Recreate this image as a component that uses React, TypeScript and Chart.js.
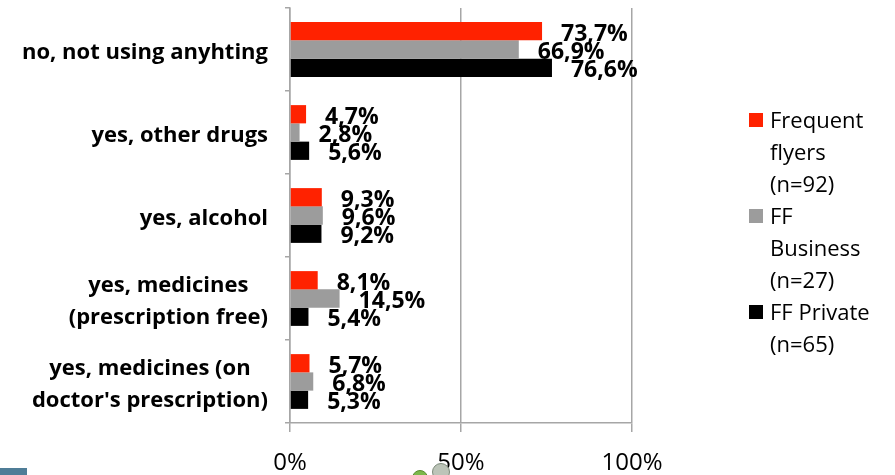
import React, { useEffect, useRef } from "react";
import { Chart, registerables } from "chart.js";

Chart.register(...registerables);

const categories: string[][] = [
  ["no, not using anyhting"],
  ["yes, other drugs"],
  ["yes, alcohol"],
  ["yes, medicines", "(prescription free)"],
  ["yes, medicines (on", "doctor's prescription)"],
];
const frequentFlyers = [73.7, 4.7, 9.3, 8.1, 5.7];
const ffBusiness = [66.9, 2.8, 9.6, 14.5, 6.8];
const ffPrivate = [76.6, 5.6, 9.2, 5.4, 5.3];
const seriesLegend: string[][] = [
  ["Frequent", "flyers", "(n=92)"],
  ["FF", "Business", "(n=27)"],
  ["FF Private", "(n=65)"],
];
const seriesColors = ["#ff2200", "#9c9c9c", "#000000"];
const xTickValues = [0, 50, 100];

const FONT = "'Open Sans', 'Noto Sans', sans-serif";
const AXIS_GRAY = "#a6a6a6";

const fmt = (v: number) => v.toFixed(1).replace(".", ",") + "%";

const categoryLabelPlugin = {
  id: "categoryLabels",
  afterDraw(chart: any) {
    const ctx = chart.ctx;
    const yScale = chart.scales.y;
    const right = chart.chartArea.left - 22;
    const lh = 32;
    ctx.save();
    ctx.font = `bold 22px ${FONT}`;
    ctx.fillStyle = "#000";
    ctx.textBaseline = "middle";
    ctx.textAlign = "center";
    (chart.data.labels as string[][]).forEach((lines, i) => {
      const yc = yScale.getPixelForTick(i) + 3;
      const w = Math.max(...lines.map((l) => ctx.measureText(l).width));
      const cx = right - w / 2;
      const y0 = yc - ((lines.length - 1) * lh) / 2;
      lines.forEach((l, k) => ctx.fillText(l, cx, y0 + k * lh));
    });
    ctx.restore();
  },
};

const dataLabelPlugin = {
  id: "dataLabels",
  afterDatasetsDraw(chart: any) {
    const ctx = chart.ctx;
    ctx.save();
    ctx.font = `bold 23px ${FONT}`;
    ctx.fillStyle = "#000";
    ctx.textBaseline = "middle";
    ctx.textAlign = "left";
    chart.data.datasets.forEach((ds: any, di: number) => {
      const meta = chart.getDatasetMeta(di);
      meta.data.forEach((bar: any, i: number) => {
        ctx.fillText(fmt(ds.data[i]), bar.x + 19, bar.y + 3);
      });
    });
    ctx.restore();
  },
};

const legendPlugin = {
  id: "customLegend",
  afterDraw(chart: any) {
    const ctx = chart.ctx;
    const boxX = 749;
    const textX = 770;
    const lh = 32;
    let y = 122;
    ctx.save();
    ctx.font = `22px ${FONT}`;
    ctx.textBaseline = "middle";
    ctx.textAlign = "left";
    chart.data.datasets.forEach((ds: any, di: number) => {
      const lines = seriesLegend[di];
      ctx.fillStyle = ds.backgroundColor;
      ctx.fillRect(boxX, y - 9, 14, 14);
      ctx.fillStyle = "#000";
      lines.forEach((l: string, k: number) => ctx.fillText(l, textX, y + k * lh));
      y += lines.length * lh;
    });
    ctx.restore();
  },
};

export default function App() {
  const ref = useRef<HTMLCanvasElement | null>(null);

  useEffect(() => {
    if (!ref.current) return;
    const chart = new Chart(ref.current, {
      type: "bar",
      data: {
        labels: categories as any,
        datasets: [
          { label: "Frequent flyers (n=92)", data: frequentFlyers, backgroundColor: seriesColors[0] },
          { label: "FF Business (n=27)", data: ffBusiness, backgroundColor: seriesColors[1] },
          { label: "FF Private (n=65)", data: ffPrivate, backgroundColor: seriesColors[2] },
        ],
      },
      options: {
        indexAxis: "y",
        responsive: false,
        animation: false,
        layout: { padding: { left: 0, top: 8, right: 263, bottom: 0 } },
        datasets: { bar: { categoryPercentage: 0.66, barPercentage: 1.0 } },
        plugins: { legend: { display: false }, tooltip: { enabled: false } },
        scales: {
          x: {
            min: 0,
            max: 100,
            afterBuildTicks: (scale: any) => {
              scale.ticks = xTickValues.map((v) => ({ value: v }));
            },
            afterFit: (scale: any) => {
              scale.height = 52;
            },
            ticks: {
              callback: (v: any) => v + "%",
              font: { family: FONT, size: 24 },
              color: "#000",
              padding: 17,
              maxRotation: 0,
              autoSkip: false,
            },
            grid: { color: AXIS_GRAY, lineWidth: 1.5, tickLength: 9, drawTicks: true },
            border: { display: true, color: AXIS_GRAY, width: 1.5 },
          },
          y: {
            afterFit: (scale: any) => {
              scale.width = 290;
            },
            ticks: { display: false },
            grid: { drawOnChartArea: false, offset: true, color: AXIS_GRAY, tickLength: 5, lineWidth: 1.5 },
            border: { display: true, color: AXIS_GRAY, width: 1.5 },
          },
        },
      } as any,
      plugins: [categoryLabelPlugin, dataLabelPlugin, legendPlugin],
    });
    return () => chart.destroy();
  }, []);

  return (
    <div style={{ position: "fixed", left: 0, top: 0, width: 895, height: 475, background: "#fff", overflow: "hidden" }}>
      <canvas ref={ref} width={895} height={475} style={{ width: 895, height: 475, display: "block" }} />
      <div style={{ position: "absolute", left: 0, top: 468, width: 27, height: 7, background: "#4f7d97" }} />
      <div style={{ position: "absolute", left: 412, top: 470, width: 16, height: 16, borderRadius: "50%", background: "#7cb84a", border: "1px solid #5a8a30", boxSizing: "border-box" }} />
      <div style={{ position: "absolute", left: 432, top: 463, width: 18, height: 18, borderRadius: "50%", background: "#bcc4b8", border: "1px solid #7d8a7a", boxSizing: "border-box" }} />
    </div>
  );
}
